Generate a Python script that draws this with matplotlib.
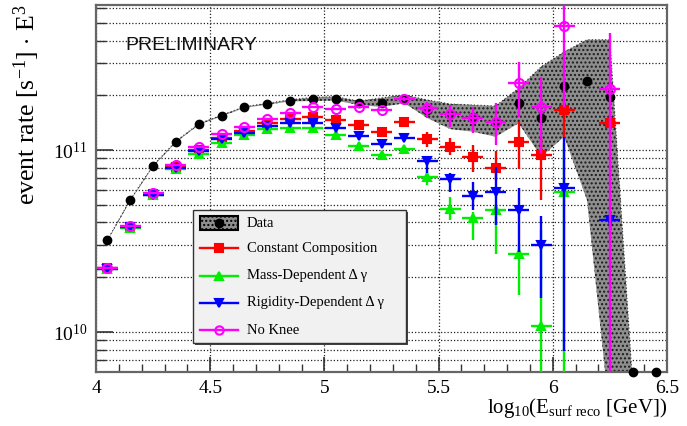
import numpy as np
import matplotlib
matplotlib.use("Agg")
import matplotlib.pyplot as plt
from matplotlib.lines import Line2D
from matplotlib.patches import Rectangle
from matplotlib.ticker import FixedLocator, FixedFormatter, MultipleLocator, LogLocator, NullFormatter

plt.rcParams['font.family'] = ['Liberation Serif', 'DejaVu Serif']
plt.rcParams['mathtext.fontset'] = 'custom'
plt.rcParams['mathtext.rm'] = 'Liberation Serif'
plt.rcParams['mathtext.it'] = 'Liberation Serif:italic'
plt.rcParams['mathtext.bf'] = 'Liberation Serif:bold'
plt.rcParams['hatch.linewidth'] = 1.0

nan = np.nan

# ---------------- data ----------------
energy_bins = [4.05, 4.15, 4.25, 4.35, 4.45, 4.55, 4.65, 4.75, 4.85, 4.95,
               5.05, 5.15, 5.25, 5.35, 5.45, 5.55, 5.65, 5.75, 5.85, 5.95,
               6.05, 6.15, 6.25, 6.35, 6.45]
bin_half_width = 0.046

data_rate = [3.19e10, 5.30e10, 8.16e10, 1.111e11, 1.385e11, 1.545e11, 1.719e11, 1.792e11, 1.869e11, 1.902e11,
             1.917e11, 1.815e11, 1.815e11, 1.902e11, 1.661e11, 1.573e11, 1.514e11, 1.421e11, 1.808e11, 1.501e11,
             2.252e11, 2.400e11, 1.966e11, 6.0e9, 6.0e9]

band_bins = energy_bins[:24]
band_upper = [3.21e10, 5.34e10, 8.22e10, 1.119e11, 1.395e11, 1.556e11, 1.732e11, 1.806e11, 1.89e11, 1.95e11,
              1.965e11, 1.86e11, 1.934e11, 2.01e11, 1.886e11, 1.792e11, 1.77e11, 1.747e11, 2.188e11, 2.877e11,
              3.467e11, 4.04e11, 4.04e11, 5.07e9]
band_lower = [3.17e10, 5.26e10, 8.10e10, 1.103e11, 1.375e11, 1.534e11, 1.706e11, 1.778e11, 1.85e11, 1.86e11,
              1.87e11, 1.77e11, 1.725e11, 1.808e11, 1.501e11, 1.305e11, 1.261e11, 1.184e11, 1.403e11, 9.19e10,
              1.184e11, 5.30e10, 3.38e9, 1.0e9]

model_bins = energy_bins[:23]

const_comp = [2.24e10, 3.79e10, 5.72e10, 8.06e10, 1.00e11, 1.164e11, 1.273e11, 1.403e11, 1.482e11, 1.526e11,
              1.457e11, 1.368e11, 1.261e11, 1.421e11, 1.145e11, 1.043e11, 9.15e10, 7.96e10, 1.111e11, 9.39e10,
              1.667e11, nan, 1.414e11]
const_comp_hi = [2.24e10, 3.79e10, 5.72e10, 8.06e10, 1.00e11, 1.164e11, 1.273e11, 1.403e11, 1.482e11, 1.526e11,
                 1.457e11, 1.368e11, 1.261e11, 1.421e11, 1.261e11, 1.164e11, 1.065e11, 9.91e10, 1.432e11, 1.184e11,
                 1.886e11, nan, 1.50e11]
const_comp_lo = [2.24e10, 3.79e10, 5.72e10, 8.06e10, 1.00e11, 1.164e11, 1.273e11, 1.403e11, 1.482e11, 1.526e11,
                 1.457e11, 1.368e11, 1.261e11, 1.421e11, 1.043e11, 9.39e10, 7.59e10, 6.83e10, 7.83e10, 5.30e10,
                 1.179e11, nan, 1.32e11]

mass_dep = [2.22e10, 3.75e10, 5.65e10, 7.90e10, 9.50e10, 1.093e11, 1.21e11, 1.30e11, 1.314e11, 1.317e11,
            1.217e11, 1.059e11, 9.39e10, 1.009e11, 7.13e10, 4.77e10, 4.26e10, 4.67e10, 2.70e10, 1.086e10,
            5.89e10, nan, nan]
mass_dep_hi = [2.22e10, 3.75e10, 5.65e10, 7.90e10, 9.50e10, 1.093e11, 1.21e11, 1.30e11, 1.314e11, 1.317e11,
               1.217e11, 1.059e11, 9.39e10, 1.009e11, 7.59e10, 5.53e10, 4.57e10, 5.08e10, 3.06e10, 3.62e10,
               1.10e11, nan, nan]
mass_dep_lo = [2.22e10, 3.75e10, 5.65e10, 7.90e10, 9.50e10, 1.093e11, 1.21e11, 1.30e11, 1.314e11, 1.317e11,
               1.217e11, 1.059e11, 9.39e10, 1.009e11, 6.42e10, 4.11e10, 3.19e10, 2.70e10, 1.59e10, 1.0e9,
               1.0e9, nan, nan]

rigidity_dep = [2.23e10, 3.77e10, 5.68e10, 8.00e10, 9.87e10, 1.15e11, 1.245e11, 1.361e11, 1.409e11, 1.403e11,
                1.33e11, 1.194e11, 1.083e11, 1.169e11, 8.70e10, 6.90e10, 5.60e10, 5.89e10, 4.71e10, 3.02e10,
                6.15e10, nan, 4.11e10]
rigidity_dep_hi = [2.23e10, 3.77e10, 5.68e10, 8.00e10, 9.87e10, 1.15e11, 1.245e11, 1.361e11, 1.409e11, 1.403e11,
                   1.33e11, 1.194e11, 1.083e11, 1.169e11, 9.19e10, 7.47e10, 6.69e10, 8.09e10, 6.17e10, 4.33e10,
                   1.179e11, nan, 4.6e10]
rigidity_dep_lo = [2.23e10, 3.77e10, 5.68e10, 8.00e10, 9.87e10, 1.15e11, 1.245e11, 1.361e11, 1.409e11, 1.403e11,
                   1.33e11, 1.194e11, 1.083e11, 1.169e11, 7.44e10, 5.89e10, 4.67e10, 3.86e10, 2.75e10, 1.53e10,
                   7.91e9, nan, 3.7e10]

no_knee = [2.26e10, 3.82e10, 5.78e10, 8.27e10, 1.04e11, 1.225e11, 1.344e11, 1.476e11, 1.605e11, 1.719e11,
           1.676e11, 1.715e11, 1.661e11, 1.902e11, 1.697e11, 1.579e11, 1.507e11, 1.432e11, 2.331e11, 1.719e11,
           4.82e11, nan, 2.16e11]
no_knee_hi = [2.26e10, 3.82e10, 5.78e10, 8.27e10, 1.04e11, 1.225e11, 1.344e11, 1.476e11, 1.605e11, 1.719e11,
              1.676e11, 1.715e11, 1.661e11, 1.95e11, 1.846e11, 1.77e11, 1.731e11, 1.808e11, 3.065e11, 2.534e11,
              8.0e11, nan, 4.41e11]
no_knee_lo = [2.26e10, 3.82e10, 5.78e10, 8.27e10, 1.04e11, 1.225e11, 1.344e11, 1.476e11, 1.605e11, 1.719e11,
              1.676e11, 1.715e11, 1.661e11, 1.85e11, 1.495e11, 1.344e11, 1.236e11, 1.065e11, 1.526e11, 9.6e10,
              1.725e11, nan, 1.0e9]

legend_labels = ["Data", "Constant Composition", "Mass-Dependent \u0394 \u03b3",
                 "Rigidity-Dependent \u0394 \u03b3", "No Knee"]

x_ticks = [4, 4.5, 5, 5.5, 6, 6.5]
x_tick_labels = ["4", "4.5", "5", "5.5", "6", "6.5"]
y_ticks = [1e10, 1e11]
y_tick_labels = [r"$10^{10}$", r"$10^{11}$"]

# ---------------- figure ----------------
W, H = 687, 426
fig = plt.figure(figsize=(W / 100, H / 100), dpi=100)
L, R, T, B = 96, 667, 5, 372
ax = fig.add_axes([L / W, 1 - B / H, (R - L) / W, (B - T) / H])

def fx(px):
    return px / W

def fy(py):
    return 1 - py / H

ax.set_yscale('log')
ax.set_xlim(4, 6.5)
ax.set_ylim(6.03e9, 6.27e11)

ax.yaxis.set_major_locator(FixedLocator(y_ticks))
ax.yaxis.set_major_formatter(FixedFormatter(y_tick_labels))
ax.yaxis.set_minor_locator(LogLocator(base=10, subs=np.arange(2, 10)))
ax.yaxis.set_minor_formatter(NullFormatter())
ax.xaxis.set_major_locator(FixedLocator(x_ticks))
ax.xaxis.set_major_formatter(FixedFormatter(x_tick_labels))
ax.xaxis.set_minor_locator(MultipleLocator(0.1))
ax.set_axisbelow(True)
ax.grid(which='both', axis='y', color='#222222', linestyle=(0, (1, 1.6)), linewidth=0.9)
ax.grid(which='major', axis='x', color='#222222', linestyle=(0, (1, 1.6)), linewidth=0.9)

ax.tick_params(axis='both', which='both', direction='in', labelsize=14, pad=6, color='#333333')
ax.tick_params(axis='y', which='major', length=12, width=1.2)
ax.tick_params(axis='y', which='minor', length=7, width=1.0)
ax.tick_params(axis='x', which='major', length=11, width=1.2)
ax.tick_params(axis='x', which='minor', length=6, width=1.0)
for s in ax.spines.values():
    s.set_color('#666666')
    s.set_linewidth(1.6)

# data band (systematic uncertainty) and data points
ax.fill_between(band_bins, band_lower, band_upper, facecolor='#8e8e8e', edgecolor='#1a1a1a',
                hatch='....', linewidth=0, zorder=2)
ax.plot(band_bins, band_upper, color='#333333', linestyle=(0, (1, 2)), linewidth=0.8, zorder=2)
ax.plot(energy_bins, data_rate, 'o', color='black', ms=6, zorder=3, clip_on=False, linestyle='none')

def draw_model(vals, lo, hi, color, marker, mfc, zo, ms=6.0):
    xs = np.array(model_bins)
    v = np.array(vals)
    l = np.array(lo)
    h = np.array(hi)
    m = ~np.isnan(v)
    ax.errorbar(xs[m], v[m], xerr=bin_half_width, yerr=[v[m] - l[m], h[m] - v[m]],
                fmt=marker, color=color, mfc=mfc, mec=color, ms=ms, mew=1.5,
                elinewidth=1.7, capsize=0, linestyle='none', zorder=zo)

draw_model(const_comp, const_comp_lo, const_comp_hi, '#ff0000', 's', '#ff0000', 4, 6.0)
draw_model(mass_dep, mass_dep_lo, mass_dep_hi, '#00ee00', '^', '#00ee00', 5, 6.0)
draw_model(rigidity_dep, rigidity_dep_lo, rigidity_dep_hi, '#0000ff', 'v', '#0000ff', 6, 6.0)
draw_model(no_knee, no_knee_lo, no_knee_hi, '#ff00ff', 'o', 'none', 7, 6.5)

# PRELIMINARY
fig.text(fx(125), fy(45), "PRELIMINARY", family='Liberation Sans', fontsize=14,
         color='#111111', ha='left', va='center')

# axis titles
fig.text(fx(27), fy(4), r"event rate [s$^{-1}$] $\cdot$ E$^{3}$", rotation=90,
         ha='center', va='top', fontsize=18.5)
fig.text(fx(667), fy(413), r"log$_{10}$(E$_{\mathrm{surf\ reco}}$ [GeV])",
         ha='right', va='baseline', fontsize=15)

# legend (manual, figure coordinates)
lx0, lx1, ly0, ly1 = 193, 406, 210, 343
fig.add_artist(Rectangle((fx(lx0 + 2), fy(ly1 + 2)), fx(lx1 - lx0), (ly1 - ly0) / H,
                         transform=fig.transFigure, facecolor='#444444', edgecolor='none', zorder=20))
fig.add_artist(Rectangle((fx(lx0), fy(ly1)), fx(lx1 - lx0), (ly1 - ly0) / H,
                         transform=fig.transFigure, facecolor='#f1f1f1', edgecolor='#333333',
                         linewidth=1.0, zorder=21))
row_y = [223.3, 248.3, 275.7, 302.7, 330.0]
sym_x0, sym_x1, sym_xc, txt_x = 200, 238, 219, 247
fig.add_artist(Rectangle((fx(sym_x0), fy(row_y[0] + 7)), fx(sym_x1 - sym_x0), 14 / H,
                         transform=fig.transFigure, facecolor='#8e8e8e', edgecolor='black',
                         hatch='....', linewidth=1.5, zorder=22))
fig.add_artist(Line2D([fx(sym_xc)], [fy(row_y[0])], transform=fig.transFigure, marker='o',
                      color='black', ms=6, zorder=23))
leg_styles = [('#ff0000', 's', '#ff0000'), ('#00ee00', '^', '#00ee00'),
              ('#0000ff', 'v', '#0000ff'), ('#ff00ff', 'o', 'none')]
for (c, mk, mf), yy in zip(leg_styles, row_y[1:]):
    fig.add_artist(Line2D([fx(sym_x0), fx(sym_x1)], [fy(yy), fy(yy)], transform=fig.transFigure,
                          color=c, linewidth=1.7, zorder=22))
    fig.add_artist(Line2D([fx(sym_xc)], [fy(yy)], transform=fig.transFigure, marker=mk,
                          color=c, mfc=mf, mec=c, mew=1.5, ms=6, zorder=23))
for lab, yy in zip(legend_labels, row_y):
    fig.text(fx(txt_x), fy(yy), lab, ha='left', va='center', fontsize=10.5, zorder=24)

fig.savefig("out.png", dpi=100)
